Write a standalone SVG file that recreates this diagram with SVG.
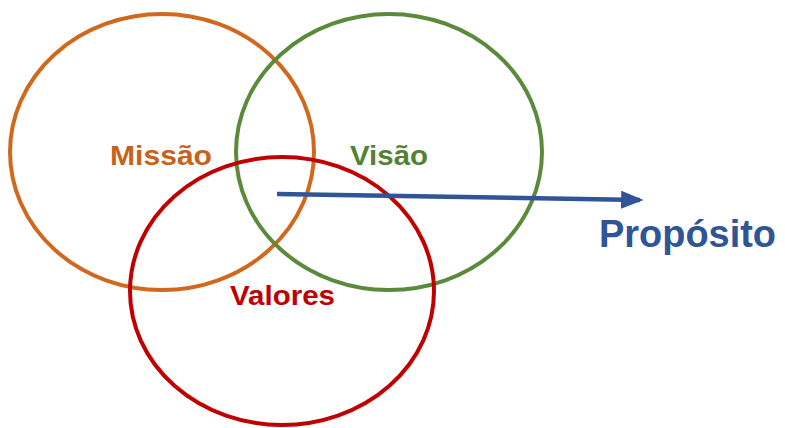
<svg xmlns="http://www.w3.org/2000/svg" width="785" height="428" viewBox="0 0 785 428">
<style>
  .ring { fill: none; stroke-width: 4; }
  .lbl { font-family: "Liberation Sans", Arial, sans-serif; font-weight: bold; font-size: 28px; }
</style>
<defs>
  <marker id="ah" markerWidth="5" markerHeight="4" refX="4.2" refY="2" orient="auto" markerUnits="strokeWidth">
    <path d="M0,0 L5,2 L0,4 Z" fill="#2F5597"/>
  </marker>
</defs>
<rect width="785" height="428" fill="#ffffff"/>
<g id="missao">
  <ellipse class="ring" cx="162" cy="152" rx="152" ry="138" stroke="#D0691E"/>
</g>
<g id="visao">
  <ellipse class="ring" cx="389" cy="152" rx="153" ry="138" stroke="#5A8A3A"/>
</g>
<g id="valores">
  <ellipse class="ring" cx="282" cy="291" rx="152" ry="134" stroke="#C00000"/>
</g>
<g id="labels">
  <text class="lbl" x="110" y="165" fill="#C8621B" textLength="102" lengthAdjust="spacingAndGlyphs">Missão</text>
  <text class="lbl" x="350" y="165" fill="#548235" textLength="78" lengthAdjust="spacingAndGlyphs">Visão</text>
  <text class="lbl" x="230" y="305" fill="#C00000" textLength="105" lengthAdjust="spacingAndGlyphs">Valores</text>
</g>
<g id="connectors">
  <line x1="277" y1="194" x2="640" y2="200" stroke="#2F5597" stroke-width="4.5" marker-end="url(#ah)"/>
</g>
<g id="proposito">
  <text x="599" y="247" fill="#2F5597" font-family="Liberation Sans, Arial, sans-serif" font-weight="bold" font-size="39" textLength="177" lengthAdjust="spacingAndGlyphs">Propósito</text>
</g>
</svg>
